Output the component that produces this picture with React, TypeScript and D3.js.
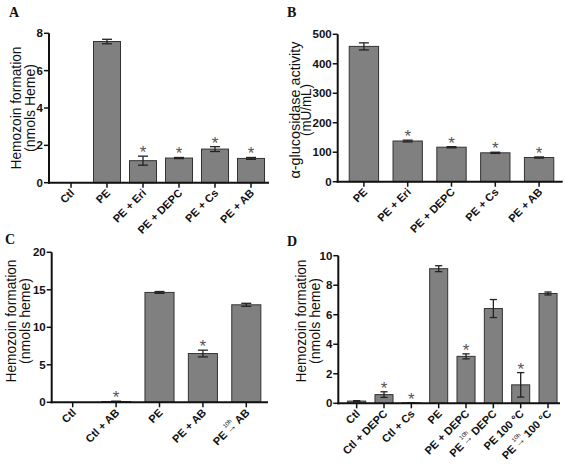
import React from "react";
import * as d3 from "d3";

// Panel A
const catsA = ["Ctl", "PE", "PE + Eri", "PE + DEPC", "PE + Cs", "PE + AB"];
const valsA = [0, 7.56, 1.18, 1.32, 1.8, 1.3];
const errA = [0, 0.12, 0.24, 0.03, 0.13, 0.05];
const sigA = [false, false, true, true, true, true];
const ticksA = [0, 2, 4, 6, 8];

// Panel B
const catsB = ["PE", "PE + Eri", "PE + DEPC", "PE + Cs", "PE + AB"];
const valsB = [459, 138, 117, 98, 82];
const errB = [12, 3, 2, 2, 2];
const sigB = [false, true, true, true, true];
const ticksB = [0, 100, 200, 300, 400, 500];

// Panel C
const catsC = ["Ctl", "Ctl + AB", "PE", "PE + AB", "PE →10h AB"];
const valsC = [0, 0.1, 14.65, 6.5, 13.0];
const errC = [0, 0.05, 0.12, 0.45, 0.2];
const sigC = [false, true, false, true, false];
const ticksC = [0, 5, 10, 15, 20];

// Panel D
const catsD = ["Ctl", "Ctl + DEPC", "Ctl + Cs", "PE", "PE + DEPC", "PE →10h DEPC", "PE 100 °C", "PE →10h 100 °C"];
const valsD = [0.15, 0.59, 0.03, 9.12, 3.18, 6.42, 1.25, 7.44];
const errD = [0.03, 0.19, 0.01, 0.2, 0.17, 0.61, 0.83, 0.1];
const sigD = [false, true, true, false, true, false, true, false];
const ticksD = [0, 2, 4, 6, 8, 10];

const FONT = "Liberation Sans, Arial, sans-serif";

type PanelProps = {
  letter: string;
  letterX: number;
  letterY: number;
  cats: string[];
  vals: number[];
  errs: number[];
  sig: boolean[];
  ticks: number[];
  yMax: number;
  axisX: number;
  axisEnd: number;
  baseY: number;
  topY: number;
  bandStart: number;
  bandEnd: number;
  padding: number;
  titles: string[];
  titleX: number[];
  titleY: number;
  titleLen: number[];
};

function XLabel({ label, x, y }: { label: string; x: number; y: number }) {
  const parts = label.split("→10h");
  return (
    <text
      transform={`translate(${x},${y}) rotate(-45)`}
      textAnchor="end"
      fontFamily={FONT}
      fontWeight="bold"
      fontSize={11}
      fill="#111"
    >
      {parts.length === 1 ? (
        label
      ) : (
        <>
          {parts[0]}
          <tspan fontSize={6} fontWeight="normal" dy={-7} dx={0}>
            10h
          </tspan>
          <tspan dx={-11} dy={7}>
            →
          </tspan>
          {parts[1]}
        </>
      )}
    </text>
  );
}

function Panel(p: PanelProps) {
  const x = d3
    .scaleBand<string>()
    .domain(p.cats)
    .range([p.bandStart, p.bandEnd])
    .paddingInner(p.padding)
    .paddingOuter(p.padding / 2);
  const y = d3.scaleLinear().domain([0, p.yMax]).range([p.baseY, p.topY]);
  const bw = x.bandwidth();
  const cap = Math.min(10, bw * 0.4);
  return (
    <g>
      <text x={p.letterX} y={p.letterY} fontFamily="Liberation Serif, Times New Roman, serif" fontWeight="bold" fontSize={14} fill="#111">
        {p.letter}
      </text>
      {p.titles.map((t, i) => (
        <text
          key={i}
          transform={`translate(${p.titleX[i]},${p.titleY}) rotate(-90)`}
          textAnchor="middle"
          fontFamily={FONT}
          fontSize={14}
          fill="#111"
          textLength={p.titleLen[i]}
          lengthAdjust="spacingAndGlyphs"
        >
          {t}
        </text>
      ))}
      {p.cats.map((c, i) => {
        const bx = x(c)!;
        const v = p.vals[i];
        const e = p.errs[i];
        const cx = bx + bw / 2;
        const top = y(v + e);
        const bot = y(Math.max(0, v - e));
        return (
          <g key={c}>
            {v > 0 && (
              <rect x={bx} y={y(v)} width={bw} height={p.baseY - y(v)} fill="#808080" stroke="#333" strokeWidth={1} />
            )}
            {e > 0 && (
              <g stroke="#222" strokeWidth={1.3}>
                <line x1={cx} x2={cx} y1={top} y2={bot} />
                <line x1={cx - cap / 2} x2={cx + cap / 2} y1={top} y2={top} />
                <line x1={cx - cap / 2} x2={cx + cap / 2} y1={bot} y2={bot} />
              </g>
            )}
            {p.sig[i] && (
              <text x={cx} y={top + 2} textAnchor="middle" fontFamily={FONT} fontSize={17} fill="#555">
                *
              </text>
            )}
            <line x1={cx} x2={cx} y1={p.baseY} y2={p.baseY + 5} stroke="#111" strokeWidth={1.5} />
            <XLabel label={c} x={cx + 4} y={p.baseY + 11} />
          </g>
        );
      })}
      <line x1={p.axisX} x2={p.axisX} y1={p.topY} y2={p.baseY + 1} stroke="#111" strokeWidth={2} />
      {p.ticks.map((t) => (
        <g key={t}>
          <line x1={p.axisX - 5} x2={p.axisX} y1={y(t)} y2={y(t)} stroke="#111" strokeWidth={1.5} />
          <text
            x={p.axisX - 6}
            y={y(t)}
            dy="0.36em"
            textAnchor="end"
            fontFamily={FONT}
            fontWeight="bold"
            fontSize={11.5}
            fill="#111"
          >
            {t}
          </text>
        </g>
      ))}
      <line x1={p.axisX - 1} x2={p.axisEnd} y1={p.baseY} y2={p.baseY} stroke="#111" strokeWidth={2} />
    </g>
  );
}

export default function App() {
  return (
    <svg
      width={565}
      height={475}
      style={{ position: "absolute", left: 0, top: 0, background: "#fff" }}
    >
      <rect width={565} height={475} fill="#fff" />
      <Panel
        letter="A"
        letterX={9}
        letterY={17}
        cats={catsA}
        vals={valsA}
        errs={errA}
        sig={sigA}
        ticks={ticksA}
        yMax={8}
        axisX={49}
        axisEnd={269}
        baseY={182.7}
        topY={33.3}
        bandStart={53}
        bandEnd={269}
        padding={0.25}
        titles={["Hemozoin formation", "(nmols Heme)"]}
        titleX={[21, 35]}
        titleY={108}
        titleLen={[123, 88]}
      />
      <Panel
        letter="B"
        letterX={287}
        letterY={17}
        cats={catsB}
        vals={valsB}
        errs={errB}
        sig={sigB}
        ticks={ticksB}
        yMax={500}
        axisX={337.7}
        axisEnd={562.7}
        baseY={181.7}
        topY={34.3}
        bandStart={342}
        bandEnd={561}
        padding={0.33}
        titles={["α-glucosidase activity", "(mU/mL)"]}
        titleX={[300, 311]}
        titleY={110}
        titleLen={[137, 52]}
      />
      <Panel
        letter="C"
        letterX={5}
        letterY={244}
        cats={catsC}
        vals={valsC}
        errs={errC}
        sig={sigC}
        ticks={ticksC}
        yMax={20}
        axisX={51.7}
        axisEnd={268}
        baseY={402.3}
        topY={252.3}
        bandStart={51}
        bandEnd={268}
        padding={0.33}
        titles={["Hemozoin formation", "(nmols heme)"]}
        titleX={[16, 30]}
        titleY={321}
        titleLen={[123, 86]}
      />
      <Panel
        letter="D"
        letterX={287}
        letterY={246}
        cats={catsD}
        vals={valsD}
        errs={errD}
        sig={sigD}
        ticks={ticksD}
        yMax={10}
        axisX={338.3}
        axisEnd={560}
        baseY={403.3}
        topY={255.7}
        bandStart={343}
        bandEnd={561.7}
        padding={0.34}
        titles={["Hemozoin formation", "(nmols heme)"]}
        titleX={[306, 320]}
        titleY={321}
        titleLen={[123, 86]}
      />
    </svg>
  );
}
